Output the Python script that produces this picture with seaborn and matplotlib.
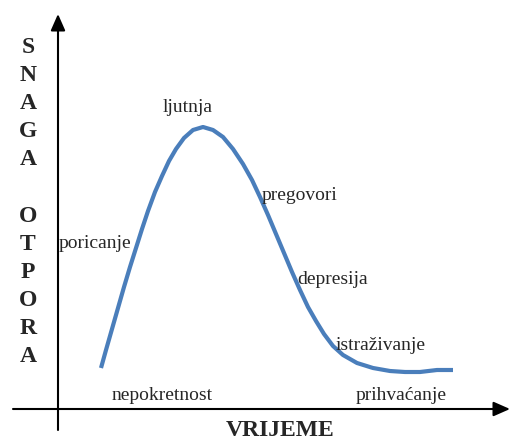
import matplotlib
matplotlib.use("Agg")
import matplotlib.pyplot as plt
import seaborn as sns

# Data (origin = where the axes cross)
time = [43, 48, 54, 60, 66, 72, 78, 84, 90, 97, 104, 111, 118, 126, 135,
        145, 155, 165, 175, 185, 194, 202, 210, 218, 226, 234, 242, 250,
        258, 266, 275, 285, 299, 315, 332, 347, 362, 379, 395]
resistance = [41, 59, 80, 101, 122, 142, 161, 180, 198, 217, 233, 248, 260,
              271, 279, 282, 279, 272, 260, 245, 229, 212, 194, 175, 156,
              137, 119, 102, 88, 75, 63, 54, 46, 41, 38, 37, 37, 39, 39]

stage_labels = ["poricanje", "ljutnja", "pregovori", "depresija",
                "istraživanje", "prihvaćanje", "nepokretnost"]
stage_x = [1, 130, 242, 275, 323, 343, 104]
stage_y = [166, 302, 214, 129, 63, 13, 13]
stage_ha = ["left", "center", "center", "center", "center", "center", "center"]

y_title = "SNAGA OTPORA"
x_title = "VRIJEME"

sns.set_style("white")
plt.rcParams['font.family'] = ['Liberation Serif', 'DejaVu Serif']

fig = plt.figure(figsize=(5.11, 4.43), dpi=100)
ax = fig.add_axes([0, 0, 1, 1])
ax.set_xlim(-58, 453)
ax.set_ylim(-34, 409)
ax.axis("off")

# axes with arrow heads
arrow = dict(arrowstyle="-|>,head_length=0.5,head_width=0.22", color="black",
             lw=1.5, mutation_scale=20, shrinkA=0, shrinkB=0)
ax.annotate("", xy=(0, 395), xytext=(0, -21), arrowprops=arrow)
ax.annotate("", xy=(452, 0), xytext=(-45, 0), arrowprops=arrow)

# curve
sns.lineplot(x=time, y=resistance, ax=ax, color="#4a7ebb", lw=3,
             sort=False, estimator=None)
ax.lines[-1].set_solid_capstyle("butt")
ax.lines[-1].set_solid_joinstyle("round")

for lab, x, y, ha in zip(stage_labels, stage_x, stage_y, stage_ha):
    ax.text(x, y, lab, ha=ha, va="center", fontsize=14)

# vertical stacked y title
letters = list(y_title)
step = (362 - 52) / (len(letters) - 1)
for i, ch in enumerate(letters):
    if ch == " ":
        continue
    ax.text(-30, 362 - i * step, ch, ha="center", va="center",
            fontsize=17, fontweight="bold")

ax.text(222, -22, x_title, ha="center", va="center", fontsize=17,
        fontweight="bold")

fig.savefig("out.png", dpi=100)
